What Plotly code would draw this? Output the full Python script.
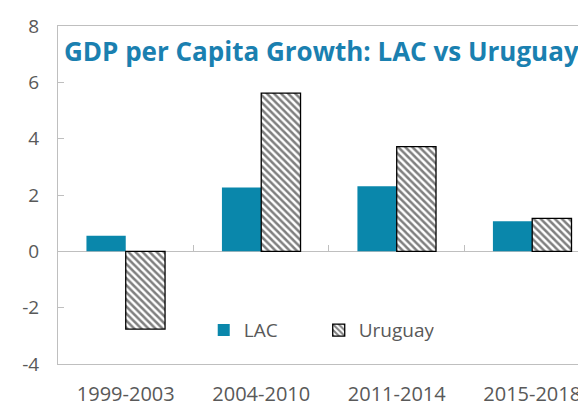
import plotly.graph_objects as go

# data
periods = ['1999-2003', '2004-2010', '2011-2014', '2015-2018']
lac = [0.55, 2.27, 2.31, 1.07]
uruguay = [-2.76, 5.62, 3.72, 1.17]
y_ticks = [-4, -2, 0, 2, 4, 6, 8]
y_labels = ['-4', '-2', '0', '2', '4', '6', '8']

teal = '#0A87AB'
grey = '#595959'
axis_grey = '#BFBFBF'

fig = go.Figure()
fig.add_trace(go.Bar(
    x=periods, y=lac, name='LAC',
    marker=dict(color=teal, line=dict(width=0)),
))
fig.add_trace(go.Bar(
    x=periods, y=uruguay, name='Uruguay',
    marker=dict(color='white', line=dict(color='black', width=1.3),
                pattern=dict(shape='\\', fgcolor='black', bgcolor='white',
                             size=5, solidity=0.5)),
))

# tick marks on the zero line between categories
fig.add_trace(go.Scatter(x=[0.5, 1.5, 2.5], y=[0, 0, 0], xaxis='x2',
                         mode='markers', marker=dict(size=1, opacity=0),
                         showlegend=False, hoverinfo='skip'))

# the page body has an 8px margin, so the figure is shrunk by that much
fig.update_layout(
    width=578, height=399,
    margin=dict(l=50, r=0, t=18, b=43),
    plot_bgcolor='white', paper_bgcolor='white',
    barmode='group', bargap=0.42, bargroupgap=0,
    font=dict(family='Open Sans, Noto Sans, sans-serif', color=grey, size=19),
    showlegend=True,
    legend=dict(orientation='h', x=0.276, y=0.1, xanchor='left', yanchor='middle',
                font=dict(size=19, color=grey), bgcolor='rgba(0,0,0,0)',
                itemwidth=30, entrywidth=70, tracegroupgap=0),
    xaxis=dict(range=[-0.5, 3.397], showline=True, linecolor=axis_grey,
               linewidth=1, mirror=True, ticks='', showgrid=False,
               tickfont=dict(size=20, color=grey), ticklabelstandoff=12),
    xaxis2=dict(overlaying='x', anchor='free', position=1/3, range=[-0.5, 3.397],
                tickvals=[0.5, 1.5, 2.5], ticks='inside', ticklen=6,
                tickcolor=axis_grey, showticklabels=False, showgrid=False,
                showline=False, zeroline=False),
    yaxis=dict(range=[-4, 8], tickvals=y_ticks, ticktext=y_labels,
               showline=True, linecolor=axis_grey,
               linewidth=1, ticks='inside', ticklen=6, tickcolor=axis_grey,
               showgrid=False, zeroline=True, zerolinecolor=axis_grey,
               zerolinewidth=1, tickfont=dict(size=19, color=grey),
               ticklabelstandoff=14),
    annotations=[dict(text='<b>GDP per Capita Growth: LAC vs Uruguay</b>',
                      xref='paper', yref='paper', x=0.008, y=0.985,
                      xanchor='left', yanchor='top', showarrow=False,
                      font=dict(size=26, color='#1A80B0'))],
)

fig.write_html("out.html")
